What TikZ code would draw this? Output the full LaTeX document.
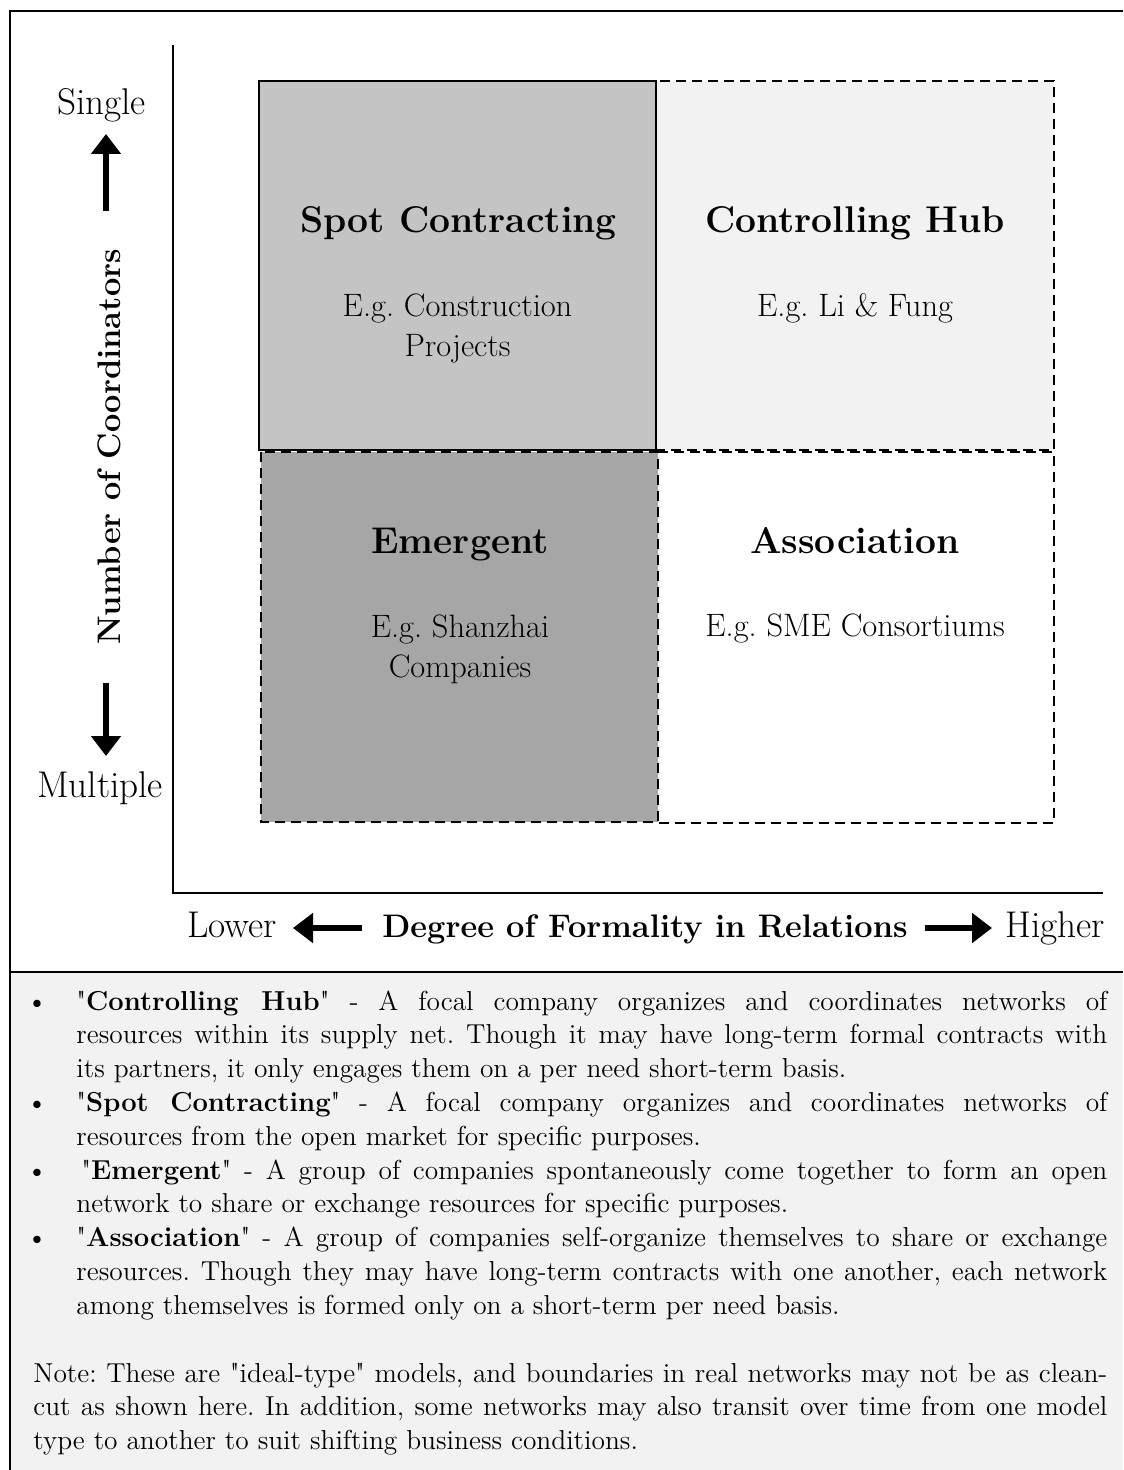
\documentclass[tikz,border=0pt]{standalone}
\usepackage{fontspec}
\usetikzlibrary{arrows.meta}
\definecolor{spotc}{HTML}{C4C4C4}
\definecolor{hubc}{HTML}{F2F2F2}
\definecolor{emerc}{HTML}{A6A6A6}
\definecolor{notec}{HTML}{F2F2F2}
\frenchspacing
\newcommand\myfs[1]{\fontsize{#1}{#1}\selectfont}
\newcommand\dq{\textquotedbl}
\newcommand\fullline[1]{\makebox[515.5pt][s]{#1}}
\newcommand\noteline[1]{\makebox[537pt][s]{#1}}
\tikzset{
  frameline/.style={line width=1pt},
  axisline/.style={line width=1.1pt},
  dashbox/.style={line width=1pt, dash pattern=on 5pt off 3pt},
  solidbox/.style={line width=1pt},
  bigarrow/.style={line width=3pt, -{Triangle[width=14.5pt,length=10pt]}},
  quadtitle/.style={inner sep=0pt, anchor=base, font=\myfs{18.6}\bfseries},
  quadsub/.style={inner sep=0pt, anchor=base, font=\myfs{16.2}},
  axislabel/.style={inner sep=0pt, anchor=base, font=\myfs{16.3}\bfseries},
  endlabel/.style={inner sep=0pt, anchor=base, font=\myfs{18.6}},
  bodytext/.style={inner sep=0pt, anchor=base west, font=\myfs{13.7}},
  bulletmark/.style={inner sep=0pt, anchor=base, font=\myfs{13.7}},
}
\begin{document}
\begin{tikzpicture}[x=0.5pt,y=-0.5pt]
\useasboundingbox (0,0) rectangle (1123,1470);
% lower note box
\fill[notec] (10,972) rectangle (1123,1470);
\draw[frameline] (10,972) -- (1123,972);
% outer frame
\draw[frameline] (1123,11) -- (10,11) -- (10,1470);
% axes
\draw[axisline] (173,45) -- (173,893) -- (1103,893);
% quadrants
\fill[spotc] (259,81) rectangle (656,450);
\fill[hubc] (656,81) rectangle (1054,450);
\fill[emerc] (261,452) rectangle (658,822);
\draw[dashbox] (656,81) rectangle (1054,450);
\draw[dashbox] (658,452) -- (1054,452) -- (1054,823) -- (658,823);
\draw[dashbox] (261,452) rectangle (658,822);
\draw[solidbox] (259,81) rectangle (656,450);
% quadrant texts
\node[quadtitle] (spt) at (458.5,233) {Spot Contracting};
\node[quadsub] (sps1) at (457.5,317) {E.g. Construction};
\node[quadsub] (sps2) at (457.5,357) {Projects};
\node[quadtitle] (cht) at (855,233) {Controlling Hub};
\node[quadsub] (chs) at (855,317) {E.g. Li \& Fung};
\node[quadtitle] (emt) at (460,553) {Emergent};
\node[quadsub] (ems1) at (460,637) {E.g. Shanzhai};
\node[quadsub] (ems2) at (460,677) {Companies};
\node[quadtitle] (ast) at (855,553) {Association};
\node[quadsub] (ass) at (855,636) {E.g. SME Consortiums};
% vertical axis labels
\node[endlabel] (single) at (101.5,115) {Single};
\node[endlabel] (multiple) at (100,797) {Multiple};
\node[axislabel, rotate=90] (ncoord) at (120,447) {Number of Coordinators};
\coordinate (upA) at (106,211);
\coordinate (upB) at (106,134);
\coordinate (dnA) at (106,683);
\coordinate (dnB) at (106,756);
\draw[bigarrow] (upA) -- (upB);
\draw[bigarrow] (dnA) -- (dnB);
% horizontal axis labels
\node[endlabel] (lower) at (232,937) {Lower};
\node[endlabel] (higher) at (1055,937) {Higher};
\node[axislabel] (degree) at (645,937) {Degree of Formality in Relations};
\coordinate (ltA) at (362,928);
\coordinate (ltB) at (293,928);
\coordinate (rtA) at (925,928);
\coordinate (rtB) at (992,928);
\draw[bigarrow] (ltA) -- (ltB);
\draw[bigarrow] (rtA) -- (rtB);
% bullets
\node[bulletmark] (m1) at (37,1010) {\textbullet};
\node[bulletmark] (m2) at (37,1111.4) {\textbullet};
\node[bulletmark] (m3) at (37,1179) {\textbullet};
\node[bulletmark] (m4) at (37,1246.6) {\textbullet};
\node[bodytext] (l1) at (76,1010) {\fullline{\dq\textbf{Controlling Hub}\dq{} - A focal company organizes and coordinates networks of}};
\node[bodytext] (l2) at (76,1043.8) {\fullline{resources within its supply net. Though it may have long-term formal contracts with}};
\node[bodytext] (l3) at (76,1077.6) {its partners, it only engages them on a per need short-term basis.};
\node[bodytext] (l4) at (76,1111.4) {\fullline{\dq\textbf{Spot Contracting}\dq{} - A focal company organizes and coordinates networks of}};
\node[bodytext] (l5) at (76,1145.2) {resources from the open market for specific purposes.};
\node[bodytext] (l6) at (81,1179) {\makebox[513pt][s]{\dq\textbf{Emergent}\dq{} - A group of companies spontaneously come together to form an open}};
\node[bodytext] (l7) at (76,1212.8) {network to share or exchange resources for specific purposes.};
\node[bodytext] (l8) at (76,1246.6) {\fullline{\dq\textbf{Association}\dq{} - A group of companies self-organize themselves to share or exchange}};
\node[bodytext] (l9) at (76,1280.4) {\fullline{resources. Though they may have long-term contracts with one another, each network}};
\node[bodytext] (l10) at (76,1314.2) {among themselves is formed only on a short-term per need basis.};
\node[bodytext] (n1) at (33,1382) {\noteline{Note: These are \dq{}ideal-type\dq{} models, and boundaries in real networks may not be as clean-}};
\node[bodytext] (n2) at (33,1415.5) {\noteline{cut as shown here. In addition, some networks may also transit over time from one model}};
\node[bodytext] (n3) at (33,1449) {type to another to suit shifting business conditions.};
\end{tikzpicture}
\end{document}
